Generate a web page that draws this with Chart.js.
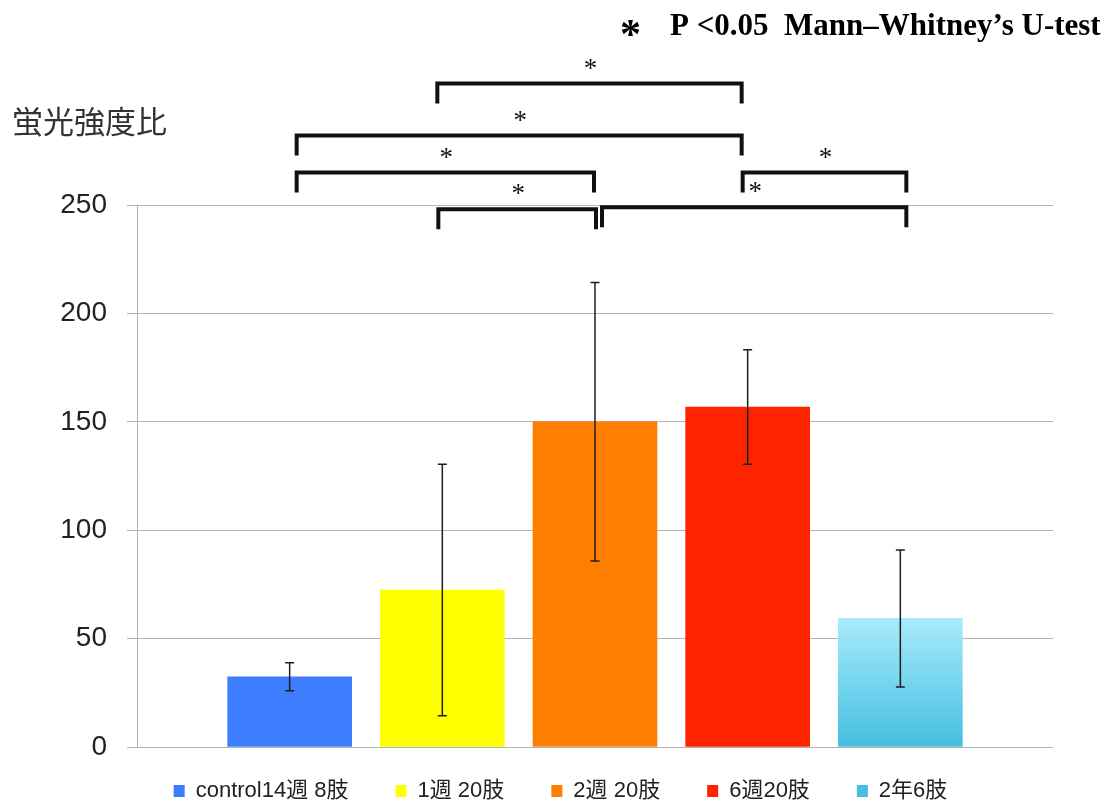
<!DOCTYPE html>
<html>
<head>
<meta charset="utf-8">
<script src="https://cdn.jsdelivr.net/npm/chart.js@4/dist/chart.umd.min.js"></script>
<style>
  html, body { margin: 0; padding: 0; background: #ffffff; }
  canvas { display: block; }
</style>
</head>
<body>
<canvas id="c" width="1115" height="804"></canvas>
<script>
// ---- data ----
const groups = ['control14週 8肢', '1週 20肢', '2週 20肢', '6週20肢', '2年6肢'];
const means  = [32.4, 72.4, 150.0, 156.8, 59.3];
const sds    = [6.5, 58.0, 64.2, 26.4, 31.6];
const yTicks = [0, 50, 100, 150, 200, 250];
// significance brackets: [group index a, group index b] (0-based) and bracket height (value units)
const sigPairs  = [[1, 3], [0, 3], [0, 2], [3, 4], [1, 2], [2, 4]];
const sigLevels = [306, 282, 265, 265, 248, 249];
const sigLabel  = '*';
const titleText = 'P <0.05  Mann\u2013Whitney\u2019s U-test';
const yTitle    = '蛍光強度比';

// ---- styles ----
const colors = ['#3f7dff', '#ffff00', '#ff7f00', '#ff2400', null];
const endOffsets = [[-5, -6], [7, -6], [7, -1], [-5, 6], [-4, 1], [7, 6]];

const labels = [''].concat(groups).concat(['']);

function cyanFill(ctx) {
  const chart = ctx.chart;
  const area = chart.chartArea;
  if (!area || ctx.type !== 'data') return '#72d4ee';
  const g = chart.ctx.createLinearGradient(0, chart.scales.y.getPixelForValue(means[4]), 0, area.bottom);
  g.addColorStop(0, '#a9ebfb');
  g.addColorStop(1, '#43bfe0');
  return g;
}

const datasets = groups.map((g, i) => {
  const arr = labels.map(() => null);
  arr[i + 1] = means[i];
  return {
    label: g,
    data: arr,
    backgroundColor: colors[i] || cyanFill,
    borderWidth: 0,
    barThickness: 124,
    grouped: false
  };
});

const errorBars = {
  id: 'errorBars',
  afterDatasetsDraw(chart) {
    const { ctx, scales: { x, y } } = chart;
    ctx.save();
    ctx.strokeStyle = '#1e1e1e';
    ctx.lineWidth = 1.5;
    means.forEach((m, i) => {
      const px = x.getPixelForValue(i + 1);
      const top = y.getPixelForValue(m + sds[i]);
      const bot = y.getPixelForValue(m - sds[i]);
      ctx.beginPath();
      ctx.moveTo(px, top); ctx.lineTo(px, bot);
      ctx.moveTo(px - 4.5, top); ctx.lineTo(px + 4.5, top);
      ctx.moveTo(px - 4.5, bot); ctx.lineTo(px + 4.5, bot);
      ctx.stroke();
    });
    ctx.restore();
  }
};

const brackets = {
  id: 'brackets',
  afterDraw(chart) {
    const { ctx, scales: { x, y } } = chart;
    ctx.save();
    ctx.strokeStyle = '#111';
    ctx.lineWidth = 4;
    ctx.lineCap = 'butt';
    ctx.lineJoin = 'miter';
    ctx.fillStyle = '#111';
    ctx.font = '27px "Liberation Serif", serif';
    ctx.textAlign = 'center';
    ctx.textBaseline = 'middle';
    sigPairs.forEach((p, k) => {
      const x1 = x.getPixelForValue(p[0] + 1) + endOffsets[k][0];
      const x2 = x.getPixelForValue(p[1] + 1) + endOffsets[k][1];
      const yy = y.getPixelForValue(sigLevels[k]);
      ctx.beginPath();
      ctx.moveTo(x1, yy + 20);
      ctx.lineTo(x1, yy);
      ctx.lineTo(x2, yy);
      ctx.lineTo(x2, yy + 20);
      ctx.stroke();
      ctx.fillText(sigLabel, (x1 + x2) / 2 + 1, yy - 14);
    });
    ctx.restore();
  }
};

const texts = {
  id: 'texts',
  afterDraw(chart) {
    const ctx = chart.ctx;
    ctx.save();
    ctx.fillStyle = '#000';
    ctx.textBaseline = 'alphabetic';
    ctx.textAlign = 'left';
    ctx.font = 'bold 31px "Liberation Serif", serif';
    ctx.fillText(titleText, 670, 35);
    ctx.font = 'bold 42px "Liberation Serif", serif';
    ctx.fillText('*', 620, 48);
    ctx.fillStyle = '#333';
    ctx.font = '31px "Noto Sans CJK JP", sans-serif';
    ctx.textBaseline = 'middle';
    ctx.fillText(yTitle, 12, 121);
    ctx.restore();
  }
};

const legendShift = {
  id: 'legendShift',
  afterLayout(chart) {
    const lg = chart.legend;
    if (lg) {
      lg.top -= 14;
      lg.bottom = chart.height;
      lg.height = lg.bottom - lg.top;
      lg.left += 10;
      lg.right += 10;
    }
  }
};

Chart.defaults.font.family = '"Liberation Sans", "Noto Sans CJK JP", sans-serif';
Chart.defaults.color = '#222';

new Chart(document.getElementById('c'), {
  type: 'bar',
  data: { labels, datasets },
  options: {
    responsive: false,
    animation: false,
    layout: { padding: { top: 205, left: 48, right: 62, bottom: 0 } },
    plugins: {
      legend: {
        position: 'bottom',
        maxHeight: 57,
        labels: {
          boxWidth: 11,
          boxHeight: 12,
          padding: 47,
          color: '#222',
          font: { size: 22 }
        }
      },
      tooltip: { enabled: false },
      title: { display: false }
    },
    scales: {
      x: {
        type: 'category',
        offset: false,
        grid: { display: false, drawTicks: false },
        border: { display: false },
        ticks: { display: false }
      },
      y: {
        min: 0,
        max: 250,
        afterFit(s) { s.width = 89; },
        afterBuildTicks(s) { s.ticks = yTicks.map(v => ({ value: v })); },
        grid: { color: '#b3b3b3', lineWidth: 1, tickLength: 10, drawTicks: true },
        border: { display: true, color: '#b3b3b3', width: 1 },
        ticks: { padding: 20, color: '#222', font: { size: 28 } }
      }
    }
  },
  plugins: [errorBars, brackets, texts, legendShift]
});
</script>
</body>
</html>
